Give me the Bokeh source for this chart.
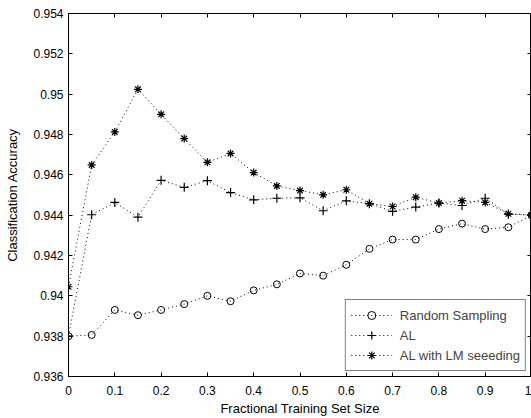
from bokeh.plotting import figure
from bokeh.models import (LinearAxis, FixedTicker, CustomJSTickFormatter, Legend,
                          LegendItem, Range1d, CustomLabelingPolicy)
from bokeh.embed import file_html
from bokeh.resources import INLINE

x = [0.0, 0.05, 0.1, 0.15, 0.2, 0.25, 0.3, 0.35, 0.4, 0.45, 0.5,
     0.55, 0.6, 0.65, 0.7, 0.75, 0.8, 0.85, 0.9, 0.95, 1.0]
random_sampling = [0.93800, 0.93806, 0.93930, 0.93904, 0.93930, 0.93959, 0.94000,
                   0.93973, 0.94027, 0.94057, 0.94111, 0.94100, 0.94154, 0.94233,
                   0.94279, 0.94279, 0.94331, 0.94358, 0.94331, 0.94340, 0.94400]
al = [0.93800, 0.94402, 0.94463, 0.94390, 0.94573, 0.94538, 0.94571, 0.94512,
      0.94476, 0.94484, 0.94486, 0.94422, 0.94471, 0.94457, 0.94419, 0.94440,
      0.94460, 0.94448, 0.94484, 0.94405, 0.94400]
al_lm = [0.94045, 0.94649, 0.94813, 0.95024, 0.94900, 0.94780, 0.94662, 0.94706,
         0.94611, 0.94545, 0.94522, 0.94501, 0.94526, 0.94457, 0.94443, 0.94489,
         0.94460, 0.94472, 0.94463, 0.94407, 0.94400]
series_labels = ["Random Sampling", "AL", "AL with LM seeeding"]
x_ticks = [0, 0.1, 0.2, 0.3, 0.4, 0.5, 0.6, 0.7, 0.8, 0.9, 1]
y_ticks = [0.936, 0.938, 0.94, 0.942, 0.944, 0.946, 0.948, 0.95, 0.952, 0.954]
x_title = "Fractional Training Set Size"
y_title = "Classification Accuracy"

FONT = "Liberation Sans"
TICK_FS = "12px"
FS = "13px"

p = figure(width=531, height=418, x_range=Range1d(0, 1), y_range=Range1d(0.936, 0.954),
           output_backend="svg", toolbar_location=None,
           min_border_left=68, min_border_right=0, min_border_top=13, min_border_bottom=42)
p.xgrid.visible = False
p.ygrid.visible = False
p.outline_line_color = "black"
p.background_fill_color = "white"
p.border_fill_color = "white"

fmt = CustomJSTickFormatter(code="return String(Number(tick.toFixed(3)));")

for ax, ticks in ((p.xaxis[0], x_ticks), (p.yaxis[0], y_ticks)):
    ax.ticker = FixedTicker(ticks=ticks)
    ax.formatter = fmt
    ax.major_tick_in = 4
    ax.major_tick_out = 0
    ax.minor_tick_line_color = None
    ax.axis_line_color = "black"
    ax.major_tick_line_color = "black"
    ax.major_label_text_font = FONT
    ax.major_label_text_font_size = TICK_FS
    ax.major_label_text_color = "black"
    ax.axis_label_text_font = FONT
    ax.axis_label_text_font_size = FS
    ax.axis_label_text_font_style = "normal"
    ax.axis_label_text_color = "black"

p.xaxis.axis_label = x_title
p.yaxis.axis_label = y_title
p.xaxis.major_label_standoff = 9
p.xaxis.axis_label_standoff = 3
p.yaxis.major_label_standoff = 5
p.yaxis.axis_label_standoff = 10


def mirror_axis(ticks):
    return LinearAxis(
        ticker=FixedTicker(ticks=ticks), major_tick_in=4, major_tick_out=0,
        minor_tick_line_color=None,
        major_label_policy=CustomLabelingPolicy(
            code="for (const i of indices) indices.unset(i); return indices;"),
        major_label_text_font_size="0px", major_label_standoff=0,
        axis_label_standoff=0, axis_line_color="black")


p.add_layout(mirror_axis(x_ticks), "above")
p.add_layout(mirror_axis(y_ticks), "right")

items = []
for ys, marker, size, lab in ((random_sampling, "circle", 7, series_labels[0]),
                              (al, "cross", 9, series_labels[1]),
                              (al_lm, "asterisk", 8, series_labels[2])):
    lr = p.line(x, ys, line_color="black", line_width=1, line_dash="1 3")
    if marker == "circle":
        sr = p.scatter(x, ys, marker=marker, size=size, fill_color=None,
                       line_color="black", line_width=1)
    else:
        sr = p.scatter(x, ys, marker=marker, size=size, line_color="black", line_width=1.2)
    items.append(LegendItem(label=lab, renderers=[lr, sr]))

legend = Legend(items=items, location="bottom_right", margin=5,
                border_line_color="black", border_line_width=1,
                background_fill_color="white", background_fill_alpha=1,
                label_text_font=FONT, label_text_font_size=FS,
                glyph_width=41, glyph_height=20, label_height=20, spacing=0,
                padding=5, label_standoff=8)
p.add_layout(legend, "center")

open("out.html", "w").write(file_html(p, INLINE))
